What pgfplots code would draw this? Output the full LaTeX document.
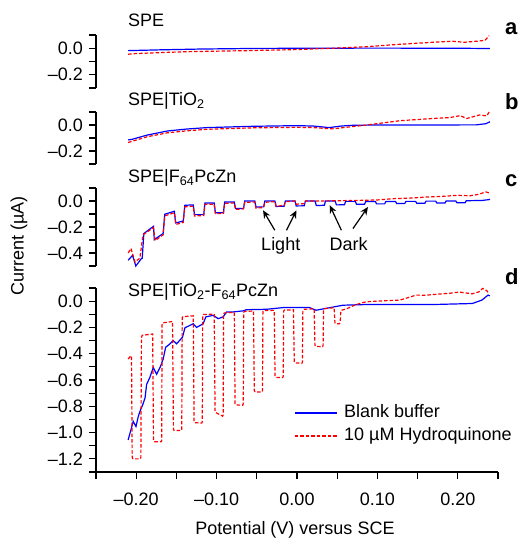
\documentclass[border=0pt]{standalone}
\usepackage{fontspec}
\setmainfont{Liberation Sans}
\usepackage{pgfplots}
\pgfplotsset{compat=1.18}
\usetikzlibrary{arrows.meta}
\definecolor{cblue}{RGB}{0,0,255}
\definecolor{cred}{RGB}{255,0,0}
\pgfplotsset{
  panelbase/.style={
    scale only axis, width=402bp,
    xmin=-0.25, xmax=0.25, clip=false,
    axis y line*=left,
    axis line style={-, line width=1.1bp},
    every outer x axis line/.append style={-},
    every outer y axis line/.append style={-},
    tick align=outside,
    major tick length=7bp, minor tick length=7bp,
    tick style={line width=1.1bp, black},
  },
  panel/.style={panelbase, axis x line=none},
  blueline/.style={cblue, line width=1.2bp},
  redline/.style={cred, line width=1.2bp, dash pattern=on 3.5bp off 2bp},
}
\begin{document}
\fontsize{18bp}{21.6bp}\selectfont
\begin{tikzpicture}
\useasboundingbox (0,0) rectangle (526bp,538bp);

% ---------- panel a ----------
\begin{axis}[panel, at={(96bp,450bp)}, anchor=south west, height=53bp,
  ymin=-0.3, ymax=0.1, ytick={-0.2,0}, yticklabels={--0.2,0.0},
  minor ytick={-0.3,-0.1,0.1}]
\addplot[blueline] coordinates {(-0.210,-0.018) (-0.170,-0.012) (-0.120,-0.006) (-0.060,-0.002) (0.000,0.000) (0.100,0.001) (0.200,0.000) (0.240,-0.002)};
\addplot[redline] coordinates {(-0.210,-0.045) (-0.200,-0.040) (-0.170,-0.033) (-0.137,-0.026) (-0.100,-0.022) (-0.060,-0.018) (0.000,-0.010) (0.044,0.000) (0.087,0.012) (0.128,0.030) (0.169,0.045) (0.193,0.053) (0.208,0.045) (0.227,0.055) (0.234,0.060) (0.239,0.095)};
\end{axis}

% ---------- panel b ----------
\begin{axis}[panel, at={(96bp,374bp)}, anchor=south west, height=52bp,
  ymin=-0.3, ymax=0.1, ytick={-0.2,0}, yticklabels={--0.2,0.0},
  minor ytick={-0.3,-0.1,0.1}]
\addplot[blueline] coordinates {(-0.210,-0.115) (-0.205,-0.110) (-0.186,-0.077) (-0.161,-0.046) (-0.137,-0.031) (-0.112,-0.020) (-0.055,-0.010) (0.000,-0.005) (0.020,-0.008) (0.040,-0.020) (0.055,-0.008) (0.070,-0.002) (0.100,0.000) (0.150,0.000) (0.223,0.001) (0.235,0.010) (0.240,0.025)};
\addplot[redline] coordinates {(-0.210,-0.135) (-0.205,-0.125) (-0.186,-0.090) (-0.161,-0.060) (-0.137,-0.045) (-0.112,-0.033) (-0.055,-0.022) (0.000,-0.018) (0.020,-0.020) (0.044,-0.030) (0.065,-0.015) (0.087,0.000) (0.128,0.033) (0.169,0.050) (0.190,0.057) (0.203,0.072) (0.211,0.050) (0.227,0.077) (0.236,0.070) (0.239,0.100)};
\end{axis}

% ---------- panel c ----------
\begin{axis}[panel, at={(96bp,272bp)}, anchor=south west, height=78bp,
  ymin=-0.5, ymax=0.1, ytick={-0.4,-0.2,0}, yticklabels={--0.4,--0.2,0.0},
  minor ytick={-0.5,-0.3,-0.1,0.1}]
\addplot[blueline] coordinates {(-0.210,-0.456) (-0.2045,-0.418) (-0.2005,-0.500) (-0.1935,-0.443) (-0.1925,-0.440) (-0.1905,-0.250) (-0.1785,-0.195) (-0.1775,-0.297) (-0.1665,-0.250) (-0.1645,-0.102) (-0.1525,-0.079) (-0.1510,-0.169) (-0.1415,-0.154) (-0.1395,-0.033) (-0.1290,-0.030) (-0.1275,-0.105) (-0.1160,-0.105) (-0.1145,-0.015) (-0.1030,-0.015) (-0.1015,-0.090) (-0.0915,-0.090) (-0.0900,-0.008) (-0.0780,-0.008) (-0.0765,-0.058) (-0.0665,-0.058) (-0.0650,0.000) (-0.0525,0.000) (-0.0510,-0.047) (-0.0415,-0.045) (-0.0400,0.000) (-0.0275,0.000) (-0.0260,-0.042) (-0.0160,-0.040) (-0.0145,0.000) (-0.0025,0.000) (-0.0010,-0.038) (0.0090,-0.037) (0.0105,0.000) (0.0225,0.000) (0.0240,-0.035) (0.0340,-0.033) (0.0355,0.000) (0.0475,0.000) (0.0490,-0.030) (0.0590,-0.029) (0.0605,-0.003) (0.0725,-0.003) (0.0740,-0.025) (0.0840,-0.025) (0.0855,-0.004) (0.0975,-0.004) (0.0990,-0.022) (0.1090,-0.022) (0.1105,-0.004) (0.1225,-0.004) (0.1240,-0.020) (0.1340,-0.020) (0.1355,-0.003) (0.1475,-0.003) (0.1490,-0.018) (0.1590,-0.018) (0.1605,-0.001) (0.1725,-0.001) (0.1740,-0.016) (0.1840,-0.016) (0.1855,0.000) (0.1975,0.000) (0.1990,-0.014) (0.2090,-0.014) (0.2105,0.002) (0.2300,0.004) (0.2380,0.010) (0.2400,0.013)};
\addplot[redline] coordinates {(-0.210,-0.400) (-0.2065,-0.365) (-0.2015,-0.470) (-0.1955,-0.440) (-0.1915,-0.260) (-0.1785,-0.205) (-0.1765,-0.305) (-0.1665,-0.260) (-0.1645,-0.115) (-0.1525,-0.090) (-0.1505,-0.180) (-0.1415,-0.165) (-0.1395,-0.045) (-0.1290,-0.040) (-0.1275,-0.115) (-0.1160,-0.112) (-0.1145,-0.025) (-0.1030,-0.025) (-0.1015,-0.098) (-0.0915,-0.095) (-0.0900,-0.018) (-0.0780,-0.015) (-0.0765,-0.065) (-0.0665,-0.060) (-0.0650,-0.010) (-0.0525,-0.008) (-0.0510,-0.055) (-0.0415,-0.050) (-0.0400,-0.010) (-0.0275,-0.005) (-0.0260,-0.040) (-0.0160,-0.035) (-0.0145,-0.005) (-0.0025,0.000) (-0.0010,-0.025) (0.0090,-0.020) (0.0105,0.000) (0.0300,0.000) (0.0600,0.003) (0.0800,0.005) (0.1000,0.008) (0.1200,0.018) (0.1400,0.022) (0.1600,0.030) (0.1800,0.035) (0.2000,0.044) (0.2150,0.040) (0.2250,0.050) (0.2350,0.070) (0.2400,0.060)};
\draw[-{Stealth[length=8bp,width=7bp]}, line width=1.2bp] (axis cs:-0.0276,-0.225) -- (axis cs:-0.0422,-0.072);
\draw[-{Stealth[length=8bp,width=7bp]}, line width=1.2bp] (axis cs:-0.0131,-0.225) -- (axis cs:-0.0007,-0.072);
\draw[-{Stealth[length=8bp,width=7bp]}, line width=1.2bp] (axis cs:0.0552,-0.225) -- (axis cs:0.0407,-0.033);
\draw[-{Stealth[length=8bp,width=7bp]}, line width=1.2bp] (axis cs:0.0696,-0.212) -- (axis cs:0.0883,-0.046);
\node[anchor=base, inner sep=0pt] at (axis cs:-0.0202,-0.384) {Light};
\node[anchor=base, inner sep=0pt] at (axis cs:0.0643,-0.384) {Dark};
\end{axis}

% ---------- panel d ----------
\begin{axis}[panelbase, at={(96bp,66bp)}, anchor=south west, height=184bp,
  axis x line*=bottom,
  ymin=-1.3, ymax=0.1,
  ytick={-1.2,-1.0,-0.8,-0.6,-0.4,-0.2,0},
  yticklabels={--1.2,--1.0,--0.8,--0.6,--0.4,--0.2,0.0},
  minor ytick={-1.3,-1.1,-0.9,-0.7,-0.5,-0.3,-0.1,0.1},
  xtick={-0.2,-0.1,0,0.1,0.2},
  xticklabels={--0.20,--0.10,0.00,0.10,0.20},
  minor xtick={-0.25,-0.15,-0.05,0.05,0.15,0.25},
  xticklabel style={yshift=-8bp},
  legend style={draw=none, fill=none, at={(axis cs:-0.004,-0.77)}, anchor=north west,
    inner sep=0pt, row sep=2bp, column sep=5bp,
    nodes={inner sep=2bp, text height=13bp, text depth=4bp}},
  legend cell align=left,
  legend image code/.code={\draw[#1] (0bp,0bp) -- (42bp,0bp);},
]
\addplot[blueline] coordinates {(-0.210,-1.056) (-0.2037,-0.915) (-0.2003,-0.954) (-0.1975,-0.880) (-0.1953,-0.838) (-0.1920,-0.790) (-0.1890,-0.736) (-0.1870,-0.633) (-0.1830,-0.580) (-0.1788,-0.505) (-0.1746,-0.556) (-0.1700,-0.500) (-0.1664,-0.440) (-0.1634,-0.351) (-0.1590,-0.330) (-0.1540,-0.300) (-0.1498,-0.325) (-0.1424,-0.274) (-0.1394,-0.203) (-0.1291,-0.172) (-0.1249,-0.200) (-0.1167,-0.172) (-0.1134,-0.120) (-0.1043,-0.108) (-0.0981,-0.133) (-0.0919,-0.120) (-0.0876,-0.082) (-0.0794,-0.082) (-0.0670,-0.074) (-0.0628,-0.065) (-0.0380,-0.062) (-0.0170,-0.049) (0.0156,-0.049) (0.0238,-0.069) (0.0362,-0.055) (0.0570,-0.031) (0.0853,-0.026) (0.1680,-0.026) (0.2180,-0.018) (0.2300,0.008) (0.2376,0.046) (0.2400,0.040)};
\addplot[redline] coordinates {(-0.210,-0.440) (-0.2065,-0.415) (-0.2058,-0.420)
 (-0.2050,-1.190) (-0.2040,-1.200) (-0.1950,-1.200) (-0.1942,-1.190) (-0.1935,-0.280) (-0.1925,-0.260) (-0.1795,-0.250)
 (-0.1785,-1.060) (-0.1775,-1.070) (-0.1690,-1.070) (-0.1683,-1.060) (-0.1678,-0.180) (-0.1668,-0.165) (-0.1548,-0.155)
 (-0.1537,-0.975) (-0.1527,-0.985) (-0.1440,-0.985) (-0.1433,-0.975) (-0.1428,-0.125) (-0.1418,-0.118) (-0.1290,-0.112)
 (-0.1280,-0.915) (-0.1270,-0.925) (-0.1185,-0.928) (-0.1178,-0.918) (-0.1173,-0.110) (-0.1163,-0.102) (-0.1030,-0.098)
 (-0.1019,-0.840) (-0.1009,-0.848) (-0.0925,-0.875) (-0.0918,-0.865) (-0.0913,-0.095) (-0.0903,-0.090) (-0.0780,-0.085)
 (-0.0770,-0.780) (-0.0760,-0.790) (-0.0675,-0.792) (-0.0668,-0.780) (-0.0663,-0.085) (-0.0653,-0.078) (-0.0541,-0.075)
 (-0.0531,-0.680) (-0.0521,-0.690) (-0.0436,-0.692) (-0.0429,-0.680) (-0.0424,-0.078) (-0.0414,-0.072) (-0.0283,-0.070)
 (-0.0273,-0.570) (-0.0263,-0.580) (-0.0178,-0.582) (-0.0171,-0.570) (-0.0166,-0.075) (-0.0156,-0.068) (-0.0044,-0.066)
 (-0.0034,-0.460) (-0.0024,-0.470) (0.0061,-0.472) (0.0068,-0.460) (0.0073,-0.070) (0.0083,-0.062) (0.0213,-0.058)
 (0.0223,-0.335) (0.0233,-0.345) (0.0318,-0.347) (0.0325,-0.335) (0.0330,-0.065) (0.0340,-0.057) (0.0462,-0.050)
 (0.0472,-0.165) (0.0482,-0.172) (0.0530,-0.172) (0.0537,-0.160) (0.0545,-0.075) (0.0560,-0.068) (0.0615,-0.059)
 (0.0700,-0.035) (0.0780,-0.018) (0.0860,-0.005) (0.1000,0.000) (0.1150,0.005) (0.1280,0.008) (0.1400,0.030) (0.1480,0.046) (0.1600,0.045) (0.1770,0.054) (0.1900,0.060) (0.2020,0.069) (0.2100,0.062) (0.2180,0.056) (0.2260,0.070) (0.2310,0.097) (0.2360,0.080) (0.2380,0.064)};
\legend{Blank buffer, 10 µM Hydroquinone}
\end{axis}

% ---------- titles, letters, labels ----------
\node[anchor=base west, inner sep=0pt] at (128bp,511bp) {SPE};
\node[anchor=base west, inner sep=0pt] at (128bp,432bp) {SPE|TiO\textsubscript{2}};
\node[anchor=base west, inner sep=0pt] at (128bp,355bp) {SPE|F\textsubscript{64}PcZn};
\node[anchor=base west, inner sep=0pt] at (128bp,241bp) {SPE|TiO\textsubscript{2}-F\textsubscript{64}PcZn};
\begin{scope}[every node/.style={anchor=base west, inner sep=0pt, font=\fontsize{22bp}{26bp}\selectfont\bfseries}]
\node at (505bp,503bp) {a};
\node at (505bp,428bp) {b};
\node at (505bp,351bp) {c};
\node at (505bp,253bp) {d};
\end{scope}
\node[rotate=90] at (19bp,292bp) {Current (µA)};
\node[anchor=base] at (295bp,4bp) {Potential (V) versus SCE};
\end{tikzpicture}
\end{document}
